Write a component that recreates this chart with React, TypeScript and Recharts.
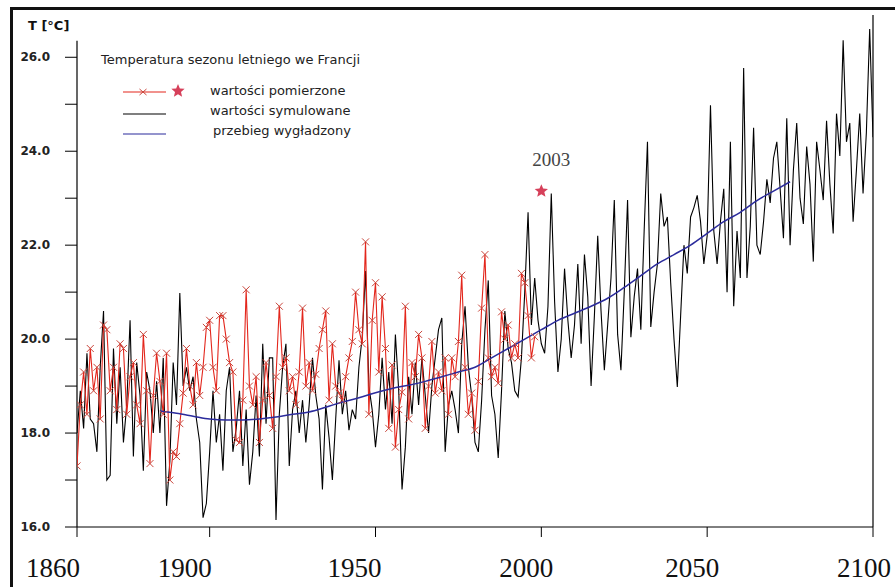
import React from "react";
import {
  ComposedChart,
  Line,
  Scatter,
  XAxis,
  YAxis,
  ReferenceLine,
  ReferenceDot,
} from "recharts";

// Data
const FIRST_YEAR = 1860;

// wartości symulowane, 1860..2100
const simulated = [
  18.0, 18.9, 18.1, 19.7, 18.3, 18.2, 17.6, 19.4, 20.6, 17.0,
  17.1, 19.8, 18.2, 19.4, 17.8, 18.6, 20.4, 17.5, 19.5, 18.8,
  17.2, 19.3, 18.9, 18.0, 19.1, 18.0, 19.6, 16.45, 17.4, 19.5,
  18.6, 20.98, 19.0, 19.4, 18.9, 19.2, 18.3, 17.8, 16.2, 16.5,
  17.6, 18.9, 17.8, 18.4, 17.2, 18.9, 19.4, 17.6, 18.1, 18.9,
  17.3, 18.5, 16.9, 17.6, 18.8, 17.5, 19.9, 18.2, 19.6, 19.6,
  16.15, 18.4, 19.4, 19.9, 17.3, 18.5, 18.9, 18.0, 18.7, 17.8,
  18.6, 19.6, 18.8, 18.3, 16.8, 18.6, 17.9, 17.0, 18.3, 19.55,
  18.4, 18.9, 18.06, 18.5, 18.3, 19.4, 20.05, 21.45, 19.0, 18.5,
  17.7, 18.4, 19.6, 18.5, 19.3, 18.2, 20.1, 18.9, 16.8, 17.7,
  19.2, 18.4, 19.5, 18.6, 19.6, 18.8, 18.0, 19.0, 19.6, 20.2,
  20.45, 17.6, 18.6, 18.9, 18.5, 18.0, 19.9, 20.7, 19.4, 18.8,
  17.8, 17.6, 18.7, 20.2, 21.25, 18.8, 18.4, 17.47, 18.9, 20.6,
  19.8, 19.5, 18.9, 18.77, 19.6, 21.0, 22.7, 20.3, 21.3, 20.4,
  19.9, 19.7, 20.7, 23.1, 20.8, 19.3, 20.0, 21.5, 20.4, 19.6,
  20.3, 21.6, 19.9, 21.8, 20.9, 19.0, 20.5, 22.2, 20.6, 19.34,
  20.3, 21.3, 22.96, 20.1, 19.34, 21.0, 22.96, 20.04, 20.9, 21.5,
  20.2, 22.3, 24.2, 20.26, 21.0, 21.6, 23.1, 22.4, 22.6, 21.2,
  20.0, 18.98, 20.5, 22.0, 21.4, 22.6, 22.8, 23.06, 22.5, 21.6,
  22.2, 24.98, 22.3, 21.6, 22.5, 23.2, 21.0, 24.2, 20.7, 22.3,
  21.3, 25.77, 21.3, 22.4, 24.5, 22.0, 21.8, 22.5, 23.4, 22.9,
  23.85, 24.2, 23.2, 22.15, 24.7, 22.0, 23.6, 24.6, 23.0, 22.45,
  24.1, 23.3, 21.65, 24.2, 23.6, 22.96, 24.65, 23.3, 22.25, 24.8,
  23.9, 26.36, 24.2, 24.6, 22.5, 23.6, 24.8, 23.1, 24.4, 26.6,
  24.3,
];

// wartości pomierzone, 1860..1998
const measured = [
  17.3, 18.6, 19.3, 18.4, 19.8, 18.9, 19.4, 18.3, 20.3, 20.2,
  18.9, 19.4, 18.5, 19.9, 19.8, 18.4, 19.2, 19.5, 18.6, 18.2,
  20.1, 18.9, 17.35, 18.8, 19.7, 19.1, 18.4, 19.7, 17.0, 17.6,
  17.5, 18.2, 18.85, 19.8, 19.0, 18.6, 19.5, 18.8, 19.4, 20.25,
  20.4, 19.4, 18.9, 20.5, 20.5, 20.0, 19.5, 19.3, 17.85, 17.8,
  18.7, 21.05, 19.0, 18.6, 19.2, 17.8, 18.7, 19.5, 18.8, 18.1,
  19.2, 20.7, 19.4, 19.6, 18.9, 19.2, 18.6, 19.3, 20.66, 19.0,
  19.5, 18.9, 19.25, 19.8, 20.2, 20.6, 18.7, 19.9, 19.0, 18.85,
  18.7, 19.2, 19.6, 19.95, 21.0, 20.2, 19.9, 22.07, 18.4, 20.4,
  21.2, 19.3, 20.9, 19.8, 18.1, 19.45, 17.7, 18.5, 18.87, 20.7,
  18.3, 19.5, 19.2, 20.1, 19.6, 18.1, 19.0, 19.95, 18.85, 19.3,
  18.9, 19.6, 18.4, 19.6, 19.2, 19.95, 21.36, 19.4, 18.4, 18.85,
  18.06, 19.1, 20.66, 21.8, 19.6, 19.2, 19.4, 19.06, 20.58, 20.0,
  20.3, 19.6, 19.9, 19.6, 21.4, 21.2, 20.5, 19.6, 20.05,
];

// przebieg wygładzony
const smoothYears = [
  1885, 1890, 1895, 1900, 1905, 1910, 1915, 1920, 1925, 1930, 1935, 1940,
  1945, 1950, 1955, 1960, 1965, 1970, 1975, 1980, 1985, 1990, 1995, 2000,
  2005, 2010, 2015, 2020, 2025, 2030, 2035, 2040, 2045, 2050, 2055, 2060,
  2065, 2070, 2075,
];
const smoothValues = [
  18.47, 18.42, 18.36, 18.3, 18.28, 18.28, 18.3, 18.34, 18.4, 18.45, 18.55,
  18.66, 18.75, 18.86, 18.95, 19.02, 19.1, 19.2, 19.3, 19.4, 19.6, 19.8,
  20.0, 20.2, 20.4, 20.55, 20.7, 20.87, 21.1, 21.35, 21.6, 21.8, 22.0,
  22.25, 22.5, 22.7, 22.95, 23.15, 23.35,
];

// 2003 heat-wave star (drawn where the source places it)
const heatwave = [{ year: 2000, value: 23.15 }];
const heatwaveLabel = "2003";

const xTicks = [1860, 1900, 1950, 2000, 2050, 2100];
const yTicks = [16, 17, 18, 19, 20, 21, 22, 23, 24, 25, 26];

const simulatedData = simulated.map((v, i) => ({ year: FIRST_YEAR + i, value: v }));
const measuredData = measured.map((v, i) => ({ year: FIRST_YEAR + i, value: v }));
const smoothData = smoothYears.map((y, i) => ({ year: y, value: smoothValues[i] }));

// Colors
const RED = "#e3261c";
const RED_MARK = "#c9463c";
const STAR = "#d6405a";
const BLUE = "#2b2b9c";

const xLabelShift: Record<number, number> = {
  1860: -24, 1900: -25, 1950: -21, 2000: -15, 2050: -15, 2100: -9,
};

const starPath = (cx: number, cy: number, r: number) => {
  const pts: string[] = [];
  for (let i = 0; i < 10; i++) {
    const rr = i % 2 === 0 ? r : r * 0.45;
    const a = -Math.PI / 2 + (i * Math.PI) / 5;
    pts.push(`${cx + rr * Math.cos(a)},${cy + rr * Math.sin(a)}`);
  }
  return `M${pts.join("L")}Z`;
};

const CrossDot = (props: any) => {
  const { cx, cy } = props;
  if (cx == null || cy == null) return null;
  const s = 3.5;
  return (
    <path
      d={`M${cx - s},${cy - s}L${cx + s},${cy + s}M${cx - s},${cy + s}L${cx + s},${cy - s}`}
      stroke={RED_MARK}
      strokeWidth={1}
      fill="none"
    />
  );
};

const XTick = (props: any) => {
  const { x, y, payload } = props;
  return (
    <text
      x={x + (xLabelShift[payload.value] || 0)}
      y={y + 38}
      textAnchor="middle"
      fontFamily="Liberation Serif"
      fontSize={27}
      fill="#111"
    >
      {payload.value}
    </text>
  );
};

const YTick = (props: any) => {
  const { x, y, payload } = props;
  if (payload.value % 2 !== 0) return <g />;
  return (
    <text
      x={x}
      y={y + 4}
      textAnchor="end"
      fontFamily="DejaVu Sans"
      fontWeight="bold"
      fontSize={12}
      fill="#222"
    >
      {payload.value.toFixed(1)}
    </text>
  );
};

const legendText: React.CSSProperties = {
  position: "absolute",
  fontFamily: "DejaVu Sans",
  fontSize: 13,
  color: "#222",
  whiteSpace: "nowrap",
  lineHeight: "16px",
};

const App = () => {
  return (
    <div
      style={{
        position: "absolute",
        left: 0,
        top: 0,
        width: 895,
        height: 587,
        background: "#fff",
        overflow: "hidden",
      }}
    >
      <div
        style={{
          position: "absolute",
          left: 10,
          top: 7,
          width: 900,
          height: 600,
          borderLeft: "3px solid #111",
          borderTop: "3px solid #111",
        }}
      />
      <ComposedChart
        width={895}
        height={587}
        margin={{ top: 15, right: 22, bottom: 5, left: 17 }}
      >
        <XAxis
          type="number"
          dataKey="year"
          domain={[1860, 2100]}
          ticks={xTicks}
          allowDataOverflow
          height={55}
          tickSize={10}
          stroke="#000"
          tick={<XTick />}
        />
        <YAxis
          type="number"
          dataKey="value"
          domain={[16, 26.9]}
          ticks={yTicks}
          allowDataOverflow
          width={60}
          tickSize={12}
          tickMargin={15}
          axisLine={false}
          stroke="#000"
          tick={<YTick />}
        />
        <ReferenceLine
          segment={[
            { x: 1860, y: 16 },
            { x: 1860, y: 26.35 },
          ]}
          stroke="#000"
          strokeWidth={1.2}
        />
        <ReferenceLine x={2100} stroke="#000" strokeWidth={1.2} />
        <Line
          data={simulatedData}
          dataKey="value"
          type="linear"
          stroke="#000"
          strokeWidth={1.1}
          dot={false}
          isAnimationActive={false}
        />
        <Line
          data={measuredData}
          dataKey="value"
          type="linear"
          stroke={RED}
          strokeWidth={1.1}
          dot={<CrossDot />}
          isAnimationActive={false}
        />
        <Line
          data={smoothData}
          dataKey="value"
          type="monotone"
          stroke={BLUE}
          strokeWidth={1.5}
          dot={false}
          isAnimationActive={false}
        />
        <Scatter
          data={heatwave}
          dataKey="value"
          fill={STAR}
          isAnimationActive={false}
          shape={(p: any) => <path d={starPath(p.cx, p.cy, 7)} fill={STAR} />}
        />
        <ReferenceDot
          x={2003}
          y={23.82}
          r={0}
          stroke="none"
          label={{
            value: heatwaveLabel,
            position: "center",
            fill: "#444",
            fontSize: 19,
            fontFamily: "Liberation Serif",
          }}
        />
      </ComposedChart>

      <div
        style={{
          position: "absolute",
          left: 28,
          top: 18,
          fontFamily: "DejaVu Sans",
          fontWeight: "bold",
          fontSize: 13,
          color: "#111",
        }}
      >
        T [°C]
      </div>
      <div style={{ ...legendText, left: 101, top: 52 }}>
        Temperatura sezonu letniego we Francji
      </div>
      <svg
        style={{ position: "absolute", left: 118, top: 80 }}
        width={75}
        height={60}
      >
        <line x1={5} y1={12} x2={48} y2={12} stroke={RED} strokeWidth={1.2} />
        <path d="M21.5,9L28.5,15M21.5,15L28.5,9" stroke={RED_MARK} strokeWidth={1} />
        <path d={starPath(60, 11, 7)} fill={STAR} />
        <line x1={5} y1={34} x2={48} y2={34} stroke="#000" strokeWidth={1.2} />
        <line x1={5} y1={54} x2={48} y2={54} stroke={BLUE} strokeWidth={1.2} />
      </svg>
      <div style={{ ...legendText, left: 210, top: 83 }}>wartości pomierzone</div>
      <div style={{ ...legendText, left: 210, top: 103 }}>wartości symulowane</div>
      <div style={{ ...legendText, left: 213, top: 123 }}>przebieg wygładzony</div>
    </div>
  );
};

export default App;
